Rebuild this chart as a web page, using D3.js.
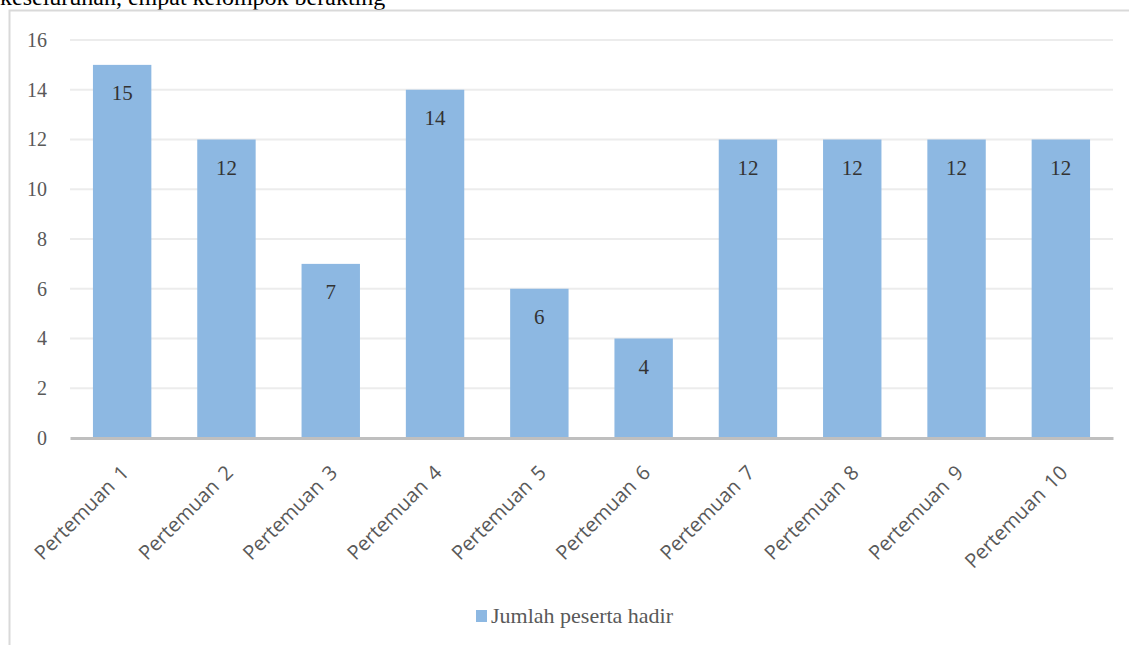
<!DOCTYPE html>
<html>
<head>
<meta charset="utf-8">
<script src="https://cdn.jsdelivr.net/npm/d3@7"></script>
<style>
  body { margin: 0; background: #fff; }
</style>
</head>
<body>
<svg id="chart" width="1129" height="645"></svg>
<script>
'use strict'

const categories = ['Pertemuan 1', 'Pertemuan 2', 'Pertemuan 3', 'Pertemuan 4', 'Pertemuan 5',
    'Pertemuan 6', 'Pertemuan 7', 'Pertemuan 8', 'Pertemuan 9', 'Pertemuan 10'];
const hadir = [15, 12, 7, 14, 6, 4, 12, 12, 12, 12];
const yTicks = [0, 2, 4, 6, 8, 10, 12, 14, 16];
const seriesName = 'Jumlah peserta hadir';
const captionText = 'keseluruhan, empat kelompok berakting';

const barColor = '#8db8e2';
const serif = '"Liberation Serif", "Times New Roman", serif';

const svg = d3.select('#chart');

// caption line above the chart frame (cut off in the source)
svg.append('text')
    .attr('x', 0)
    .attr('y', 5)
    .style('font-family', serif)
    .style('font-size', '24px')
    .attr('fill', '#000')
    .text(captionText);

// chart frame
svg.append('path')
    .attr('d', 'M9.5,645 L9.5,10.5 L1129,10.5')
    .attr('fill', 'none')
    .attr('stroke', '#d9d9d9')
    .attr('stroke-width', 2);

const margin = { left: 70, right: 16, top: 40, bottom: 207 };
const width = 1129 - margin.left - margin.right;
const height = 645 - margin.top - margin.bottom;

const g = svg.append('g').attr('transform', `translate(${margin.left},${margin.top})`);

const x = d3.scaleBand()
    .domain(categories)
    .range([0, width])
    .paddingInner(0.44)
    .paddingOuter(0.22);

const y = d3.scaleLinear()
    .domain([0, 16])
    .range([height, 0]);

// gridlines
g.append('g')
    .selectAll('line')
    .data(yTicks.filter(d => d > 0))
    .join('line')
    .attr('x1', 0)
    .attr('x2', width)
    .attr('y1', d => y(d))
    .attr('y2', d => y(d))
    .attr('stroke', '#ececec')
    .attr('stroke-width', 2);

// y axis labels
const yAxis = g.append('g')
    .call(d3.axisLeft(y).tickValues(yTicks).tickSize(0).tickPadding(23));
yAxis.select('.domain').remove();
yAxis.selectAll('text')
    .style('font-family', serif)
    .style('font-size', '20px')
    .attr('fill', '#595959');

// bars
g.selectAll('rect.bar')
    .data(hadir)
    .join('rect')
    .attr('class', 'bar')
    .attr('x', (d, i) => x(categories[i]))
    .attr('y', d => y(d))
    .attr('width', x.bandwidth())
    .attr('height', d => height - y(d))
    .attr('fill', barColor);

// value labels
g.selectAll('text.val')
    .data(hadir)
    .join('text')
    .attr('class', 'val')
    .attr('x', (d, i) => x(categories[i]) + x.bandwidth() / 2)
    .attr('y', d => y(d) + 35)
    .attr('text-anchor', 'middle')
    .style('font-family', serif)
    .style('font-size', '21px')
    .attr('fill', '#333')
    .text(d => d);

// x axis
const xAxis = g.append('g')
    .attr('transform', `translate(0,${height})`)
    .call(d3.axisBottom(x).tickSize(0));
xAxis.select('.domain')
    .attr('stroke', '#bfbfbf')
    .attr('stroke-width', 3);
xAxis.selectAll('text')
    .style('font-family', '"Open Sans", "DejaVu Sans", sans-serif')
    .style('font-size', '20px')
    .style('word-spacing', '3px')
    .attr('fill', '#595959')
    .attr('text-anchor', 'end')
    .attr('x', 0)
    .attr('y', 0)
    .attr('dy', '0.35em')
    .attr('transform', 'translate(3,31) rotate(-45)');

// legend
const legend = svg.append('g').attr('transform', 'translate(476,610)');
legend.append('rect')
    .attr('width', 11)
    .attr('height', 12)
    .attr('fill', barColor);
legend.append('text')
    .attr('x', 15)
    .attr('y', 13)
    .style('font-family', serif)
    .style('font-size', '22px')
    .attr('fill', '#595959')
    .text(seriesName);
</script>
</body>
</html>
